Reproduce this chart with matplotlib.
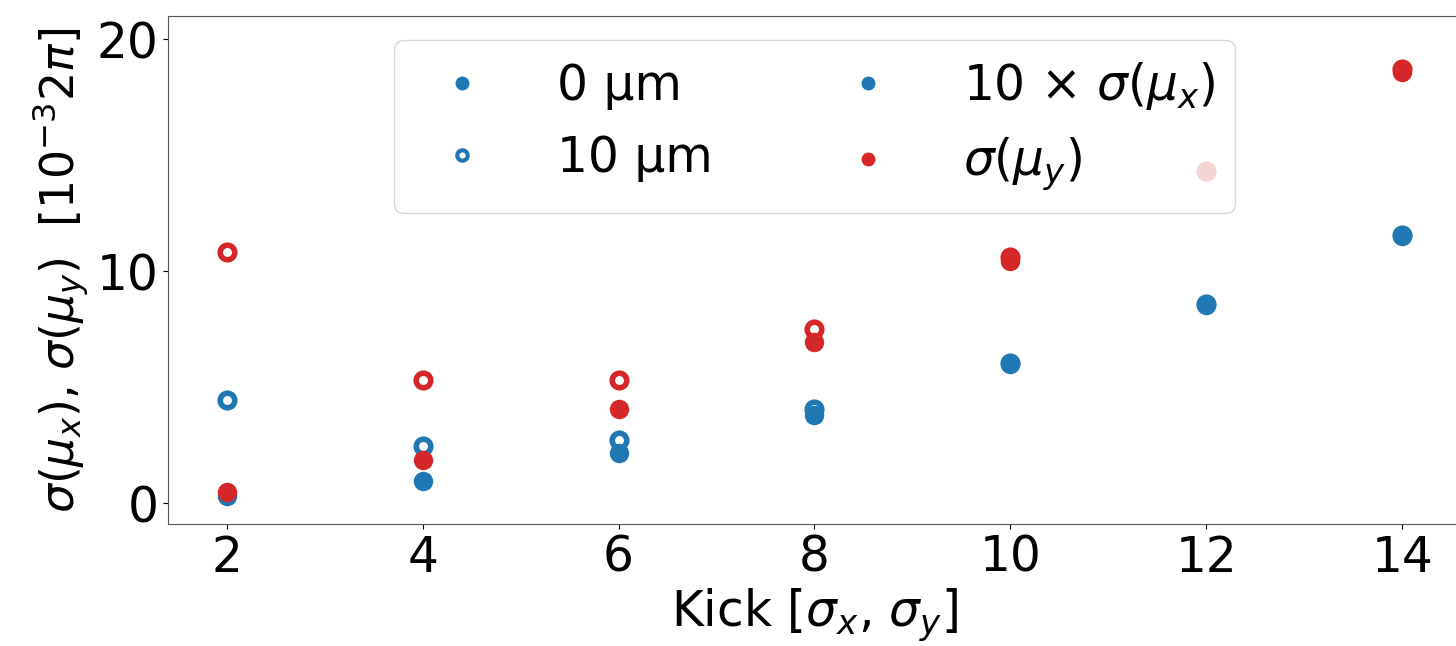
import matplotlib.pyplot as plt
from matplotlib.lines import Line2D

# kick amplitude in units of sigma
kick = [2, 4, 6, 8, 10, 12, 14]

# 10 x sigma(mu_x), 0 um and 10 um offsets
sx_0um = [0.30, 0.96, 2.15, 3.80, 5.98, 8.55, 11.53]
sx_10um = [4.45, 2.46, 2.72, 4.05, 6.05, 8.57, 11.58]

# sigma(mu_y), 0 um and 10 um offsets
sy_0um = [0.49, 1.86, 4.05, 6.93, 10.42, 14.30, 18.58]
sy_10um = [10.81, 5.31, 5.31, 7.50, 10.62, 14.33, 18.70]

blue = "#1f77b4"
red = "#d62728"

plt.rcParams["font.size"] = 35

fig = plt.figure(figsize=(14.56, 6.46), dpi=100)
ax = fig.add_axes([0.1154, 0.189, 0.888, 0.786])

# open markers first, filled ones drawn over them
ax.plot(kick, sx_10um, "o", color=blue, mfc="white", ms=10.5, mew=4)
ax.plot(kick, sy_10um, "o", color=red, mfc="white", ms=10.5, mew=4)
ax.plot(kick, sx_0um, "o", color=blue, ms=14, mew=0)
ax.plot(kick, sy_0um, "o", color=red, ms=14, mew=0)

ax.set_xlim(1.4, 14.6)
ax.set_ylim(-0.9, 21.0)
ax.set_xticks(kick)
ax.set_yticks([0, 10, 20])

ax.set_xlabel(r"Kick [$\sigma_x$, $\sigma_y$]")
ax.set_ylabel(r"$\sigma(\mu_x)$, $\sigma(\mu_y)$  [$10^{-3} 2\pi$]", fontsize=33)

for s in ax.spines.values():
    s.set_color("#555555")

handles = [
    Line2D([], [], ls="none", marker="o", color=blue, ms=10, mew=0),
    Line2D([], [], ls="none", marker="o", color=blue, mfc="white", ms=7.5, mew=3),
    Line2D([], [], ls="none", marker="o", color=blue, ms=10, mew=0),
    Line2D([], [], ls="none", marker="o", color=red, ms=10, mew=0),
]
labels = ["0 μm", "10 μm", r"10 × $\sigma(\mu_x)$", r"$\sigma(\mu_y)$"]
ax.legend(handles, labels, ncol=2, loc="upper center", handletextpad=0.95,
          columnspacing=2.2, framealpha=0.8)

fig.savefig("out.png", dpi=100)
